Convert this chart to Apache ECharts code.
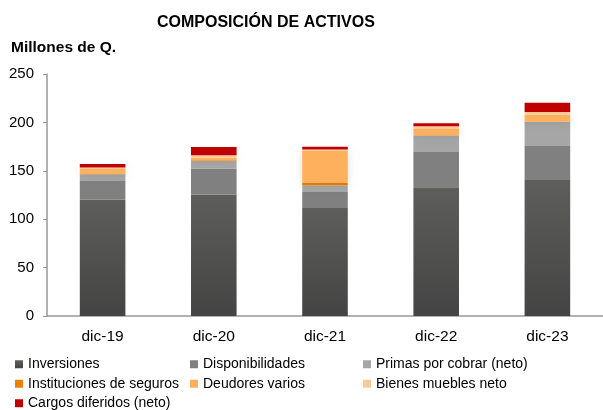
<!DOCTYPE html>
<html>
<head>
<meta charset="utf-8">
<script src="https://cdn.jsdelivr.net/npm/echarts@6/dist/echarts.min.js"></script>
<style>
  html, body { margin: 0; padding: 0; background: #fff; }
  #chart { width: 603px; height: 410px; }
</style>
</head>
<body>
<div id="chart"></div>
<script>
var categories = ['dic-19', 'dic-20', 'dic-21', 'dic-22', 'dic-23'];
var inversiones = [120, 125.5, 111.5, 133, 140.5];
var disponibilidades = [19.5, 27, 16.5, 36.5, 35];
var primas = [7, 7.5, 7, 17, 25];
var instituciones = [0.8, 1, 2.4, 0.3, 0.3];
var deudores = [5, 2.5, 33.5, 6.5, 7];
var bienes = [1.2, 2.5, 1, 2.8, 3];
var cargos = [3.4, 8.5, 3, 3, 9.5];
var yTicks = [0, 50, 100, 150, 200, 250];

var font = 'Liberation Sans, Arial, sans-serif';

function bar(name, data, color, extra) {
    var s = {
        name: name,
        type: 'bar',
        stack: 'total',
        barWidth: '41%',
        data: data,
        itemStyle: { color: color }
    };
    if (extra) {
        for (var k in extra) s.itemStyle[k] = extra[k];
    }
    return s;
}

var chart = echarts.init(document.getElementById('chart'));

var legendBase = {
    orient: 'vertical',
    top: 357,
    height: 120,
    padding: 0,
    itemWidth: 8,
    itemHeight: 8,
    itemGap: 5,
    icon: 'rect',
    selectedMode: false,
    textStyle: { fontFamily: font, fontSize: 14, color: '#000', lineHeight: 14.5 }
};

chart.setOption({
    animation: false,
    title: [{
        text: 'COMPOSICIÓN DE ACTIVOS',
        left: 157,
        top: 15,
        padding: 0,
        textStyle: { fontFamily: font, fontSize: 16, fontWeight: 'bold', color: '#000' }
    }, {
        text: 'Millones de Q.',
        left: 11,
        top: 40,
        padding: 0,
        textStyle: { fontFamily: font, fontSize: 15.5, fontWeight: 'bold', color: '#000' }
    }],
    legend: [
        Object.assign({}, legendBase, { left: 15, data: ['Inversiones', 'Instituciones de seguros', 'Cargos diferidos (neto)'] }),
        Object.assign({}, legendBase, { left: 190, data: ['Disponibilidades', 'Deudores varios'] }),
        Object.assign({}, legendBase, { left: 363, data: ['Primas por cobrar (neto)', 'Bienes muebles neto'] })
    ],
    grid: { left: 47, right: -3, top: 74, bottom: 94 },
    xAxis: {
        type: 'category',
        data: categories,
        axisLine: { lineStyle: { color: '#999', width: 1.5 } },
        axisTick: { alignWithLabel: true, length: 4, lineStyle: { color: '#999' } },
        axisLabel: { fontFamily: font, fontSize: 15.5, color: '#000', margin: 13 }
    },
    yAxis: {
        type: 'value',
        min: yTicks[0],
        max: yTicks[yTicks.length - 1],
        interval: 50,
        splitLine: { show: false },
        axisLine: { show: true, lineStyle: { color: '#999', width: 1.5 } },
        axisTick: { show: true, length: 4, lineStyle: { color: '#999' } },
        axisLabel: { fontFamily: font, fontSize: 15, color: '#000', margin: 13 }
    },
    series: [
        bar('Inversiones', inversiones, new echarts.graphic.LinearGradient(0, 0, 0, 1, [
            { offset: 0, color: '#5e5e5c' },
            { offset: 1, color: '#444444' }
        ])),
        bar('Disponibilidades', disponibilidades, '#808080'),
        bar('Primas por cobrar (neto)', primas, '#a6a6a6'),
        bar('Instituciones de seguros', instituciones, '#f08000'),
        bar('Deudores varios', deudores, '#ffb05c', { shadowBlur: 8, shadowColor: 'rgba(0,0,0,0.12)' }),
        bar('Bienes muebles neto', bienes, '#ffc896'),
        bar('Cargos diferidos (neto)', cargos, '#c00000')
    ]
});
</script>
</body>
</html>
